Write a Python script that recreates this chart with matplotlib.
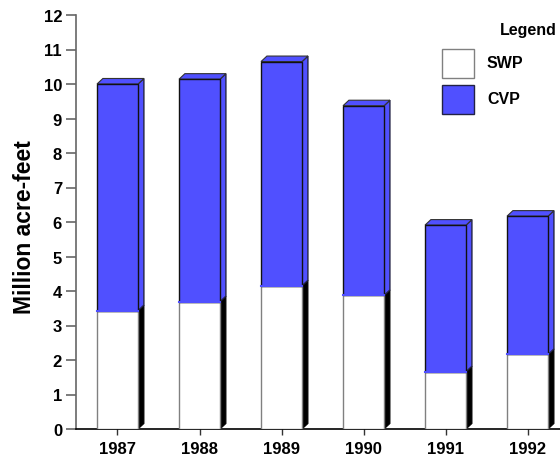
import matplotlib.pyplot as plt
from matplotlib.patches import Polygon, Rectangle
import numpy as np

years = ['1987', '1988', '1989', '1990', '1991', '1992']
swp = [3.43, 3.69, 4.15, 3.87, 1.66, 2.16]
total = [10.0, 10.14, 10.65, 9.37, 5.91, 6.17]
cvp = [t - s for t, s in zip(total, swp)]

blue = '#5050ff'
plt.rcParams['font.family'] = ['Liberation Sans', 'DejaVu Sans']
plt.rcParams['font.weight'] = 'bold'

fig = plt.figure(figsize=(5.6, 4.6), dpi=100)
ax = fig.add_axes([76/560, 30/460, 484/560, 414/460])

x = np.arange(len(years))
w = 0.5
dx, dy = 0.072, 0.16

ax.bar(x, swp, w, color='white', edgecolor='#808080', lw=1, zorder=3)
ax.bar(x, cvp, w, bottom=swp, color=blue, edgecolor='#111111', lw=1, zorder=3)

for i in range(len(years)):
    r = x[i] + w/2
    l = x[i] - w/2
    # side faces
    ax.add_patch(Polygon([(r, 0), (r+dx, dy), (r+dx, swp[i]+dy), (r, swp[i])],
                         closed=True, fc='black', ec='black', lw=0.8, zorder=2))
    ax.add_patch(Polygon([(r, swp[i]), (r+dx, swp[i]+dy), (r+dx, total[i]+dy), (r, total[i])],
                         closed=True, fc=blue, ec='#222244', lw=1, zorder=2))
    # top face
    ax.add_patch(Polygon([(l, total[i]), (l+dx, total[i]+dy), (r+dx, total[i]+dy), (r, total[i])],
                         closed=True, fc=blue, ec='#333333', lw=0.8, zorder=2))
    ax.plot([l, r], [swp[i], swp[i]], color=blue, lw=1.5, zorder=4)

ax.set_xlim(-0.506, 5.396)
ax.set_ylim(0, 12)
ax.set_yticks(np.arange(0, 13, 1))
ax.set_xticks(x)
ax.set_xticklabels(years)
ax.tick_params(axis='y', labelsize=12, length=7, width=1.2, color='#666666', pad=3)
ax.tick_params(axis='x', labelsize=12, length=4, width=1, color='#333333', pad=5)
for lab in ax.get_xticklabels() + ax.get_yticklabels():
    lab.set_fontweight('bold')

ax.spines['top'].set_visible(False)
ax.spines['right'].set_visible(False)
ax.spines['left'].set_color('#666666')
ax.spines['left'].set_linewidth(1.2)
ax.spines['bottom'].set_color('black')
ax.spines['bottom'].set_linewidth(1.2)

ax.set_ylabel('Million acre-feet', fontsize=16.5, fontweight='bold')
ax.yaxis.set_label_coords(-0.107, 0.49)
ax.yaxis.label.set_va('center')

# legend
fig.text(528/560, 1 - 30/460, 'Legend', ha='center', va='center', fontsize=11.5, fontweight='bold')
fig.patches.append(Rectangle((442/560, 1 - 79/460), 32/560, 29/460, transform=fig.transFigure,
                             fc='white', ec='#808080', lw=1))
fig.patches.append(Rectangle((442/560, 1 - 115/460), 32/560, 29/460, transform=fig.transFigure,
                             fc=blue, ec='#222244', lw=1))
fig.text(487/560, 1 - 64/460, 'SWP', ha='left', va='center', fontsize=11.5, fontweight='bold')
fig.text(487/560, 1 - 100/460, 'CVP', ha='left', va='center', fontsize=11.5, fontweight='bold')

plt.savefig('out.png', dpi=100)
